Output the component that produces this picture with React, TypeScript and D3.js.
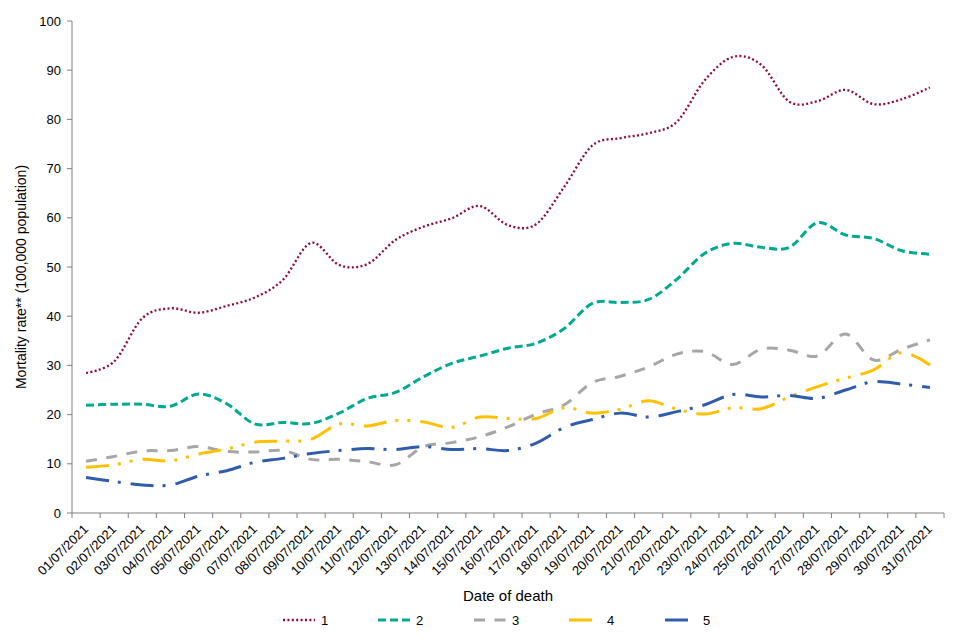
import React from "react";
import * as d3 from "d3";

const dates = [
  "01/07/2021","02/07/2021","03/07/2021","04/07/2021","05/07/2021","06/07/2021","07/07/2021","08/07/2021",
  "09/07/2021","10/07/2021","11/07/2021","12/07/2021","13/07/2021","14/07/2021","15/07/2021","16/07/2021",
  "17/07/2021","18/07/2021","19/07/2021","20/07/2021","21/07/2021","22/07/2021","23/07/2021","24/07/2021",
  "25/07/2021","26/07/2021","27/07/2021","28/07/2021","29/07/2021","30/07/2021","31/07/2021",
];

const series1 = [28.5,30.8,39.6,41.6,40.7,42.1,43.8,47.4,54.9,50.4,50.6,55.5,58.2,59.9,62.4,58.5,58.7,66.3,74.7,76.2,77.2,79.5,88.0,92.7,91.1,83.6,83.7,86.0,83.1,84.1,86.5];
const series2 = [21.9,22.1,22.1,21.7,24.2,22.2,18.1,18.4,18.2,20.3,23.3,24.5,27.7,30.4,31.9,33.5,34.5,37.5,42.6,42.8,43.4,47.5,52.8,54.8,54.0,54.0,59.0,56.5,55.8,53.3,52.6];
const series3 = [10.5,11.5,12.6,12.7,13.5,12.5,12.4,12.7,10.9,10.9,10.4,9.8,13.5,14.3,15.5,17.5,20.1,22.0,26.5,27.8,29.7,32.3,32.8,30.2,33.3,33.1,31.9,36.4,31.1,33.3,35.2];
const series4 = [9.3,9.8,10.9,10.6,12.0,13.0,14.4,14.6,15.0,18.1,17.7,18.8,18.5,17.4,19.5,19.2,19.2,21.4,20.3,21.1,22.8,21.1,20.1,21.4,21.2,23.6,25.7,27.4,29.1,32.6,30.1];
const series5 = [7.2,6.4,5.7,5.7,7.5,8.6,10.3,11.1,12.1,12.7,13.1,12.9,13.5,12.9,13.1,12.7,14.2,17.4,19.0,20.3,19.5,20.6,22.0,24.1,23.6,23.9,23.3,25.0,26.7,26.2,25.5];

const seriesNames = ["1", "2", "3", "4", "5"];
const yTicks = [0, 10, 20, 30, 40, 50, 60, 70, 80, 90, 100];

const styles = [
  { color: "#8E0B38", width: 2.3, dash: "2,2.4" },
  { color: "#00A98F", width: 3, dash: "8,4" },
  { color: "#A6A6A6", width: 3, dash: "11,9.5" },
  { color: "#FFC000", width: 3, dash: "23,9,3,9,3,10" },
  { color: "#2F5DAC", width: 3, dash: "23,9,3,10" },
];

const W = 960;
const H = 640;
const left = 72;
const right = 944;
const top = 21;
const bottom = 513;

export default function App() {
  const data = [series1, series2, series3, series4, series5];
  const x = d3.scaleBand<string>().domain(dates).range([left, right]).padding(0);
  const y = d3.scaleLinear().domain([0, 100]).range([bottom, top]);
  const cx = (d: string) => (x(d) as number) + x.bandwidth() / 2;
  const line = d3
    .line<number>()
    .x((_, i) => cx(dates[i]))
    .y((v) => y(v))
    .curve(d3.curveCardinal.tension(0));

  const font = "'Liberation Sans', Arial, sans-serif";
  const boundaries = dates.map((d) => x(d) as number).concat([right]);
  const legendX = [283, 378, 474, 569, 665];

  return (
    <div style={{ position: "fixed", left: 0, top: 0 }}>
      <svg width={W} height={H} style={{ display: "block", background: "#fff" }} fontFamily={font}>
        {/* y axis */}
        <line x1={left} x2={left} y1={top} y2={bottom} stroke="#808080" strokeWidth={1} />
        {yTicks.map((t) => (
          <g key={t}>
            <line x1={left - 5} x2={left} y1={y(t)} y2={y(t)} stroke="#808080" />
            <text x={61} y={y(t)} dy="0.35em" textAnchor="end" fontSize={13} fill="#000">
              {t}
            </text>
          </g>
        ))}
        <text
          transform={`translate(26,${(top + bottom) / 2 + 10}) rotate(-90)`}
          textAnchor="middle"
          fontSize={14}
          fill="#000"
        >
          Mortality rate** (100,000 population)
        </text>

        {/* x axis */}
        <line x1={left} x2={right} y1={bottom} y2={bottom} stroke="#808080" />
        {boundaries.map((b, i) => (
          <line key={i} x1={b} x2={b} y1={bottom} y2={bottom + 5} stroke="#808080" />
        ))}
        {dates.map((d) => (
          <text
            key={d}
            transform={`translate(${cx(d) + 3},${bottom + 17}) rotate(-45)`}
            textAnchor="end"
            fontSize={13}
            fill="#000"
          >
            {d}
          </text>
        ))}
        <text x={508} y={601} textAnchor="middle" fontSize={15} fill="#000">
          Date of death
        </text>

        {/* lines */}
        {data.map((s, k) => (
          <path
            key={k}
            d={line(s) || ""}
            fill="none"
            stroke={styles[k].color}
            strokeWidth={styles[k].width}
            strokeDasharray={styles[k].dash}
          />
        ))}

        {/* legend */}
        {seriesNames.map((n, k) => (
          <g key={n}>
            <line
              x1={legendX[k]}
              x2={legendX[k] + 32}
              y1={620}
              y2={620}
              stroke={styles[k].color}
              strokeWidth={styles[k].width}
              strokeDasharray={styles[k].dash}
            />
            <text x={legendX[k] + 38} y={620} dy="0.35em" fontSize={13} fill="#000">
              {n}
            </text>
          </g>
        ))}
      </svg>
    </div>
  );
}
